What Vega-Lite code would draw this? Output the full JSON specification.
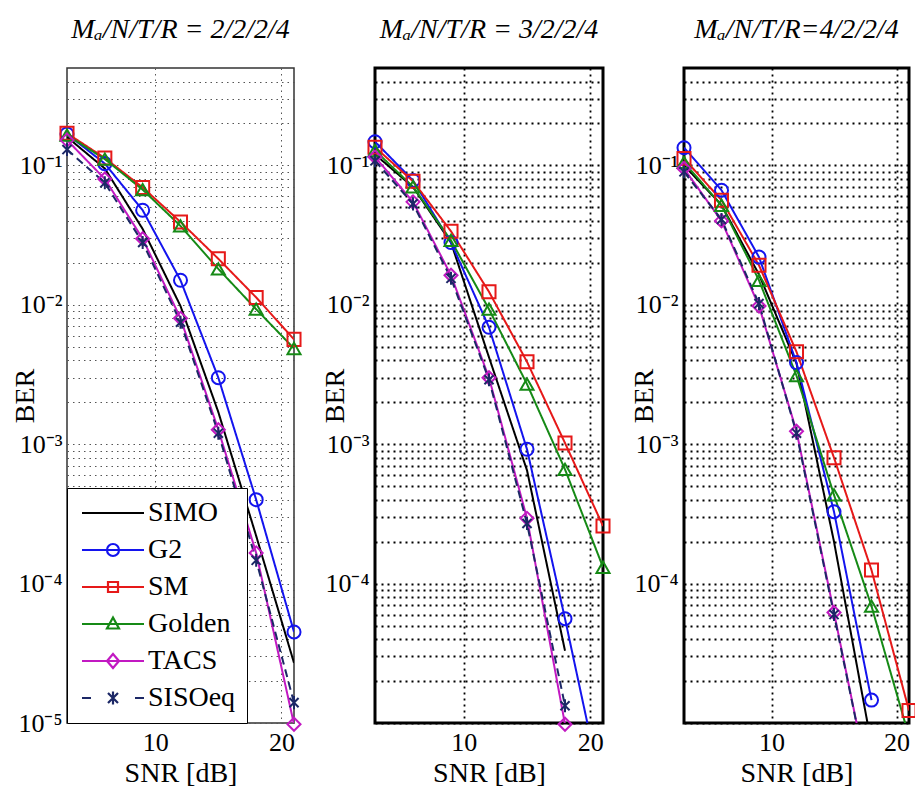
{
  "$schema": "https://vega.github.io/schema/vega-lite/v6.json",
  "background": "white",
  "padding": {"left": 10, "top": 14, "right": 0, "bottom": 0},
  "bounds": "flush",
  "spacing": 81,
  "resolve": {
    "scale": {"color": "independent", "shape": "independent", "strokeDash": "independent"},
    "legend": {"color": "independent", "shape": "independent", "strokeDash": "independent"}
  },
  "config": {
    "font": "Liberation Serif",
    "title": {"font": "Liberation Serif", "fontSize": 28, "fontStyle": "italic", "fontWeight": "normal", "color": "black", "offset": 24},
    "axis": {
      "labelFont": "Liberation Serif", "labelFontSize": 26, "labelColor": "black",
      "titleFont": "Liberation Serif", "titleFontSize": 28, "titleFontWeight": "normal", "titleColor": "black",
      "ticks": false, "domain": false, "labelOverlap": false, "labelFlush": false,
      "gridColor": "black", "gridDash": [2, 4], "gridWidth": 1.8, "gridOpacity": 1
    },
    "legend": {
      "orient": "bottom-left", "offset": 0, "padding": 11,
      "strokeColor": "black", "fillColor": "white",
      "labelFont": "Liberation Serif", "labelFontSize": 28, "labelColor": "black", "labelLimit": 400,
      "symbolSize": 400, "symbolOffset": 21, "labelOffset": 21, "rowPadding": 9,
      "symbolStrokeWidth": 2.2, "symbolFillColor": "transparent", "symbolOpacity": 1
    },
    "point": {"opacity": 1}
  },
  "datasets": {
    "ber": [
      {"p": 1, "s": "SIMO", "snr": 3, "ber": 0.16},
      {"p": 1, "s": "SIMO", "snr": 6, "ber": 0.095},
      {"p": 1, "s": "SIMO", "snr": 9, "ber": 0.035},
      {"p": 1, "s": "SIMO", "snr": 12, "ber": 0.0098},
      {"p": 1, "s": "SIMO", "snr": 15, "ber": 0.0017},
      {"p": 1, "s": "SIMO", "snr": 18, "ber": 0.00022},
      {"p": 1, "s": "SIMO", "snr": 21, "ber": 0.000027},
      {"p": 1, "s": "G2", "snr": 3, "ber": 0.168},
      {"p": 1, "s": "G2", "snr": 6, "ber": 0.103},
      {"p": 1, "s": "G2", "snr": 9, "ber": 0.0477},
      {"p": 1, "s": "G2", "snr": 12, "ber": 0.015},
      {"p": 1, "s": "G2", "snr": 15, "ber": 0.003},
      {"p": 1, "s": "G2", "snr": 18, "ber": 0.0004},
      {"p": 1, "s": "G2", "snr": 21, "ber": 0.000045},
      {"p": 1, "s": "SM", "snr": 3, "ber": 0.17},
      {"p": 1, "s": "SM", "snr": 6, "ber": 0.113},
      {"p": 1, "s": "SM", "snr": 9, "ber": 0.0695},
      {"p": 1, "s": "SM", "snr": 12, "ber": 0.0393},
      {"p": 1, "s": "SM", "snr": 15, "ber": 0.0214},
      {"p": 1, "s": "SM", "snr": 18, "ber": 0.0113},
      {"p": 1, "s": "SM", "snr": 21, "ber": 0.00565},
      {"p": 1, "s": "Golden", "snr": 3, "ber": 0.165},
      {"p": 1, "s": "Golden", "snr": 6, "ber": 0.111},
      {"p": 1, "s": "Golden", "snr": 9, "ber": 0.067},
      {"p": 1, "s": "Golden", "snr": 12, "ber": 0.0368},
      {"p": 1, "s": "Golden", "snr": 15, "ber": 0.0181},
      {"p": 1, "s": "Golden", "snr": 18, "ber": 0.0093},
      {"p": 1, "s": "Golden", "snr": 21, "ber": 0.00486},
      {"p": 1, "s": "TACS", "snr": 3, "ber": 0.152},
      {"p": 1, "s": "TACS", "snr": 6, "ber": 0.08},
      {"p": 1, "s": "TACS", "snr": 9, "ber": 0.0298},
      {"p": 1, "s": "TACS", "snr": 12, "ber": 0.008},
      {"p": 1, "s": "TACS", "snr": 15, "ber": 0.00127},
      {"p": 1, "s": "TACS", "snr": 18, "ber": 0.000166},
      {"p": 1, "s": "TACS", "snr": 21, "ber": 0.0000098},
      {"p": 1, "s": "SISOeq", "snr": 3, "ber": 0.13},
      {"p": 1, "s": "SISOeq", "snr": 6, "ber": 0.075},
      {"p": 1, "s": "SISOeq", "snr": 9, "ber": 0.028},
      {"p": 1, "s": "SISOeq", "snr": 12, "ber": 0.0075},
      {"p": 1, "s": "SISOeq", "snr": 15, "ber": 0.0012},
      {"p": 1, "s": "SISOeq", "snr": 18, "ber": 0.000147},
      {"p": 1, "s": "SISOeq", "snr": 21, "ber": 0.000014},

      {"p": 2, "s": "SIMO", "snr": 3, "ber": 0.12},
      {"p": 2, "s": "SIMO", "snr": 6, "ber": 0.07},
      {"p": 2, "s": "SIMO", "snr": 9, "ber": 0.028},
      {"p": 2, "s": "SIMO", "snr": 12, "ber": 0.0042},
      {"p": 2, "s": "SIMO", "snr": 15, "ber": 0.00065},
      {"p": 2, "s": "SIMO", "snr": 18, "ber": 0.000033},
      {"p": 2, "s": "G2", "snr": 3, "ber": 0.148},
      {"p": 2, "s": "G2", "snr": 6, "ber": 0.078},
      {"p": 2, "s": "G2", "snr": 9, "ber": 0.028},
      {"p": 2, "s": "G2", "snr": 12, "ber": 0.0069},
      {"p": 2, "s": "G2", "snr": 15, "ber": 0.00092},
      {"p": 2, "s": "G2", "snr": 18, "ber": 0.000056},
      {"p": 2, "s": "G2", "snr": 21, "ber": 0.000003},
      {"p": 2, "s": "SM", "snr": 3, "ber": 0.135},
      {"p": 2, "s": "SM", "snr": 6, "ber": 0.077},
      {"p": 2, "s": "SM", "snr": 9, "ber": 0.0337},
      {"p": 2, "s": "SM", "snr": 12, "ber": 0.0124},
      {"p": 2, "s": "SM", "snr": 15, "ber": 0.0039},
      {"p": 2, "s": "SM", "snr": 18, "ber": 0.00102},
      {"p": 2, "s": "SM", "snr": 21, "ber": 0.000259},
      {"p": 2, "s": "Golden", "snr": 3, "ber": 0.128},
      {"p": 2, "s": "Golden", "snr": 6, "ber": 0.0703},
      {"p": 2, "s": "Golden", "snr": 9, "ber": 0.029},
      {"p": 2, "s": "Golden", "snr": 12, "ber": 0.0093},
      {"p": 2, "s": "Golden", "snr": 15, "ber": 0.0027},
      {"p": 2, "s": "Golden", "snr": 18, "ber": 0.00066},
      {"p": 2, "s": "Golden", "snr": 21, "ber": 0.000131},
      {"p": 2, "s": "TACS", "snr": 3, "ber": 0.115},
      {"p": 2, "s": "TACS", "snr": 6, "ber": 0.0548},
      {"p": 2, "s": "TACS", "snr": 9, "ber": 0.0163},
      {"p": 2, "s": "TACS", "snr": 12, "ber": 0.003},
      {"p": 2, "s": "TACS", "snr": 15, "ber": 0.000294},
      {"p": 2, "s": "TACS", "snr": 18, "ber": 0.0000098},
      {"p": 2, "s": "SISOeq", "snr": 3, "ber": 0.108},
      {"p": 2, "s": "SISOeq", "snr": 6, "ber": 0.053},
      {"p": 2, "s": "SISOeq", "snr": 9, "ber": 0.0155},
      {"p": 2, "s": "SISOeq", "snr": 12, "ber": 0.0029},
      {"p": 2, "s": "SISOeq", "snr": 15, "ber": 0.00027},
      {"p": 2, "s": "SISOeq", "snr": 18, "ber": 0.0000133},

      {"p": 3, "s": "SIMO", "snr": 3, "ber": 0.1},
      {"p": 3, "s": "SIMO", "snr": 6, "ber": 0.052},
      {"p": 3, "s": "SIMO", "snr": 9, "ber": 0.0165},
      {"p": 3, "s": "SIMO", "snr": 12, "ber": 0.0038},
      {"p": 3, "s": "SIMO", "snr": 15, "ber": 0.0002},
      {"p": 3, "s": "SIMO", "snr": 18, "ber": 0.000007},
      {"p": 3, "s": "G2", "snr": 3, "ber": 0.134},
      {"p": 3, "s": "G2", "snr": 6, "ber": 0.0664},
      {"p": 3, "s": "G2", "snr": 9, "ber": 0.022},
      {"p": 3, "s": "G2", "snr": 12, "ber": 0.00385},
      {"p": 3, "s": "G2", "snr": 15, "ber": 0.000328},
      {"p": 3, "s": "G2", "snr": 18, "ber": 0.0000146},
      {"p": 3, "s": "SM", "snr": 3, "ber": 0.112},
      {"p": 3, "s": "SM", "snr": 6, "ber": 0.0563},
      {"p": 3, "s": "SM", "snr": 9, "ber": 0.0192},
      {"p": 3, "s": "SM", "snr": 12, "ber": 0.0046},
      {"p": 3, "s": "SM", "snr": 15, "ber": 0.0008},
      {"p": 3, "s": "SM", "snr": 18, "ber": 0.000125},
      {"p": 3, "s": "SM", "snr": 21, "ber": 0.0000123},
      {"p": 3, "s": "Golden", "snr": 3, "ber": 0.105},
      {"p": 3, "s": "Golden", "snr": 6, "ber": 0.0518},
      {"p": 3, "s": "Golden", "snr": 9, "ber": 0.015},
      {"p": 3, "s": "Golden", "snr": 12, "ber": 0.0031},
      {"p": 3, "s": "Golden", "snr": 15, "ber": 0.000433},
      {"p": 3, "s": "Golden", "snr": 18, "ber": 0.000069},
      {"p": 3, "s": "Golden", "snr": 21, "ber": 0.000008},
      {"p": 3, "s": "TACS", "snr": 3, "ber": 0.095},
      {"p": 3, "s": "TACS", "snr": 6, "ber": 0.04},
      {"p": 3, "s": "TACS", "snr": 9, "ber": 0.0098},
      {"p": 3, "s": "TACS", "snr": 12, "ber": 0.00124},
      {"p": 3, "s": "TACS", "snr": 15, "ber": 0.000062},
      {"p": 3, "s": "TACS", "snr": 18, "ber": 0.000003},
      {"p": 3, "s": "SISOeq", "snr": 3, "ber": 0.09},
      {"p": 3, "s": "SISOeq", "snr": 6, "ber": 0.041},
      {"p": 3, "s": "SISOeq", "snr": 9, "ber": 0.0102},
      {"p": 3, "s": "SISOeq", "snr": 12, "ber": 0.0012},
      {"p": 3, "s": "SISOeq", "snr": 15, "ber": 0.00006},
      {"p": 3, "s": "SISOeq", "snr": 18, "ber": 0.000003}
    ]
  },
  "hconcat": [
    {
      "width": 227, "height": 655,
      "title": {"text": "Mₐ/N/T/R = 2/2/2/4"},
      "view": {"stroke": "#333333", "strokeWidth": 1.5},
      "data": {"name": "ber"},
      "transform": [{"filter": "datum.p == 1"}],
      "encoding": {
        "x": {"field": "snr", "type": "quantitative", "scale": {"domain": [3, 21], "nice": false, "zero": false},
              "axis": {"values": [10, 20], "title": "SNR [dB]", "labelPadding": 6, "titlePadding": 4, "gridColor": "#555555", "gridWidth": 1, "gridDash": [1.5, 4]}},
        "y": {"field": "ber", "type": "quantitative", "scale": {"type": "log", "domain": [0.00001, 0.5], "nice": false},
              "axis": {"values": [0.00001, 0.00002, 0.00003, 0.00004, 0.00005, 0.00006, 0.00007, 0.00008, 0.00009, 0.0001, 0.0002, 0.0003, 0.0004, 0.0005, 0.0006, 0.0007, 0.0008, 0.0009, 0.001, 0.002, 0.003, 0.004, 0.005, 0.006, 0.007, 0.008, 0.009, 0.01, 0.02, 0.03, 0.04, 0.05, 0.06, 0.07, 0.08, 0.09, 0.1, 0.2, 0.3, 0.4],
                       "labelExpr": "datum.value == 0.1 ? '10⁻¹' : datum.value == 0.01 ? '10⁻²' : datum.value == 0.001 ? '10⁻³' : datum.value == 0.0001 ? '10⁻⁴' : datum.value == 0.00001 ? '10⁻⁵' : ''",
                       "title": "BER", "titleX": -34, "titleBaseline": "alphabetic", "labelPadding": 5,
                       "gridColor": "#555555", "gridWidth": 1, "gridDash": [1.5, 4]}},
        "color": {"field": "s", "type": "nominal",
                  "scale": {"domain": ["SIMO", "G2", "SM", "Golden", "TACS", "SISOeq"], "range": ["#000000", "#1414ee", "#e61919", "#168a16", "#c219c2", "#1c2866"]},
                  "legend": {"title": null,
                    "symbolType": {"expr": "datum.value == 'SIMO' ? 'M-3.1,0H3.1' : datum.value == 'G2' ? 'M-3.1,0H3.1M0.6,0A0.6,0.6 0 1,1 -0.6,0A0.6,0.6 0 1,1 0.6,0' : datum.value == 'SM' ? 'M-3.1,0H3.1M-0.5,-0.5H0.5V0.5H-0.5Z' : datum.value == 'Golden' ? 'M-3.1,0H3.1M0,-0.65L0.6,0.45H-0.6Z' : datum.value == 'TACS' ? 'M-3.1,0H3.1M0,-0.7L0.6,0L0,0.7L-0.6,0Z' : 'M-3.1,0H-2.2M2.2,0H3.1M-0.5,-0.5L0.5,0.5M-0.5,0.5L0.5,-0.5M0,-0.65V0.65'"}}}
      },
      "layer": [
        {"mark": {"type": "line", "clip": true, "strokeWidth": 2},
         "encoding": {"strokeDash": {"field": "s", "type": "nominal", "scale": {"domain": ["G2", "Golden", "SIMO", "SISOeq", "SM", "TACS"], "range": [[1, 0], [1, 0], [1, 0], [8, 5], [1, 0], [1, 0]]}, "legend": null}}},
        {"transform": [{"filter": "datum.ber >= 0.000009 && datum.s != 'SIMO'"}],
         "mark": {"type": "point", "filled": false, "strokeWidth": 2, "opacity": 1, "size": 170},
         "encoding": {
           "shape": {"field": "s", "type": "nominal", "scale": {"domain": ["Golden", "G2", "SIMO", "SISOeq", "SM", "TACS"], "range": ["triangle-up", "circle", "circle", "M-0.7,-0.7L0.7,0.7M-0.7,0.7L0.7,-0.7M0,-1V1", "square", "diamond"]}, "legend": null}
         }}
      ]
    },
    {
      "width": 228, "height": 655,
      "title": {"text": "Mₐ/N/T/R = 3/2/2/4"},
      "view": {"stroke": "black", "strokeWidth": 3},
      "data": {"name": "ber"},
      "transform": [{"filter": "datum.p == 2"}],
      "encoding": {
        "x": {"field": "snr", "type": "quantitative", "scale": {"domain": [3, 21], "nice": false, "zero": false},
              "axis": {"values": [10, 20], "title": "SNR [dB]", "labelPadding": 6, "titlePadding": 4}},
        "y": {"field": "ber", "type": "quantitative", "scale": {"type": "log", "domain": [0.00001, 0.5], "nice": false},
              "axis": {"values": [0.00001, 0.00002, 0.00003, 0.00004, 0.00005, 0.00006, 0.00007, 0.00008, 0.00009, 0.0001, 0.0002, 0.0003, 0.0004, 0.0005, 0.0006, 0.0007, 0.0008, 0.0009, 0.001, 0.002, 0.003, 0.004, 0.005, 0.006, 0.007, 0.008, 0.009, 0.01, 0.02, 0.03, 0.04, 0.05, 0.06, 0.07, 0.08, 0.09, 0.1, 0.2, 0.3, 0.4],
                       "labelExpr": "datum.value == 0.1 ? '10⁻¹' : datum.value == 0.01 ? '10⁻²' : datum.value == 0.001 ? '10⁻³' : datum.value == 0.0001 ? '10⁻⁴' : ''",
                       "title": "BER", "titleX": -32, "titleBaseline": "alphabetic", "labelPadding": 6}},
        "color": {"field": "s", "type": "nominal",
                  "scale": {"domain": ["SIMO", "G2", "SM", "Golden", "TACS", "SISOeq"], "range": ["#000000", "#1414ee", "#e61919", "#168a16", "#c219c2", "#1c2866"]},
                  "legend": null}
      },
      "layer": [
        {"mark": {"type": "line", "clip": true, "strokeWidth": 2},
         "encoding": {"strokeDash": {"field": "s", "type": "nominal", "scale": {"domain": ["G2", "Golden", "SIMO", "SISOeq", "SM", "TACS"], "range": [[1, 0], [1, 0], [1, 0], [8, 5], [1, 0], [1, 0]]}, "legend": null}}},
        {"transform": [{"filter": "datum.ber >= 0.000009 && datum.s != 'SIMO'"}],
         "mark": {"type": "point", "filled": false, "strokeWidth": 2, "opacity": 1, "size": 170},
         "encoding": {
           "shape": {"field": "s", "type": "nominal", "scale": {"domain": ["Golden", "G2", "SIMO", "SISOeq", "SM", "TACS"], "range": ["triangle-up", "circle", "circle", "M-0.7,-0.7L0.7,0.7M-0.7,0.7L0.7,-0.7M0,-1V1", "square", "diamond"]}, "legend": null}
         }}
      ]
    },
    {
      "width": 225, "height": 655,
      "title": {"text": "Mₐ/N/T/R=4/2/2/4"},
      "view": {"stroke": "black", "strokeWidth": 3},
      "data": {"name": "ber"},
      "transform": [{"filter": "datum.p == 3"}],
      "encoding": {
        "x": {"field": "snr", "type": "quantitative", "scale": {"domain": [3, 21], "nice": false, "zero": false},
              "axis": {"values": [10, 20], "title": "SNR [dB]", "labelPadding": 6, "titlePadding": 4}},
        "y": {"field": "ber", "type": "quantitative", "scale": {"type": "log", "domain": [0.00001, 0.5], "nice": false},
              "axis": {"values": [0.00001, 0.00002, 0.00003, 0.00004, 0.00005, 0.00006, 0.00007, 0.00008, 0.00009, 0.0001, 0.0002, 0.0003, 0.0004, 0.0005, 0.0006, 0.0007, 0.0008, 0.0009, 0.001, 0.002, 0.003, 0.004, 0.005, 0.006, 0.007, 0.008, 0.009, 0.01, 0.02, 0.03, 0.04, 0.05, 0.06, 0.07, 0.08, 0.09, 0.1, 0.2, 0.3, 0.4],
                       "labelExpr": "datum.value == 0.1 ? '10⁻¹' : datum.value == 0.01 ? '10⁻²' : datum.value == 0.001 ? '10⁻³' : datum.value == 0.0001 ? '10⁻⁴' : ''",
                       "title": "BER", "titleX": -32, "titleBaseline": "alphabetic", "labelPadding": 6}},
        "color": {"field": "s", "type": "nominal",
                  "scale": {"domain": ["SIMO", "G2", "SM", "Golden", "TACS", "SISOeq"], "range": ["#000000", "#1414ee", "#e61919", "#168a16", "#c219c2", "#1c2866"]},
                  "legend": null}
      },
      "layer": [
        {"mark": {"type": "line", "clip": true, "strokeWidth": 2},
         "encoding": {"strokeDash": {"field": "s", "type": "nominal", "scale": {"domain": ["G2", "Golden", "SIMO", "SISOeq", "SM", "TACS"], "range": [[1, 0], [1, 0], [1, 0], [8, 5], [1, 0], [1, 0]]}, "legend": null}}},
        {"transform": [{"filter": "datum.ber >= 0.000009 && datum.s != 'SIMO'"}],
         "mark": {"type": "point", "filled": false, "strokeWidth": 2, "opacity": 1, "size": 170},
         "encoding": {
           "shape": {"field": "s", "type": "nominal", "scale": {"domain": ["Golden", "G2", "SIMO", "SISOeq", "SM", "TACS"], "range": ["triangle-up", "circle", "circle", "M-0.7,-0.7L0.7,0.7M-0.7,0.7L0.7,-0.7M0,-1V1", "square", "diamond"]}, "legend": null}
         }}
      ]
    }
  ]
}
